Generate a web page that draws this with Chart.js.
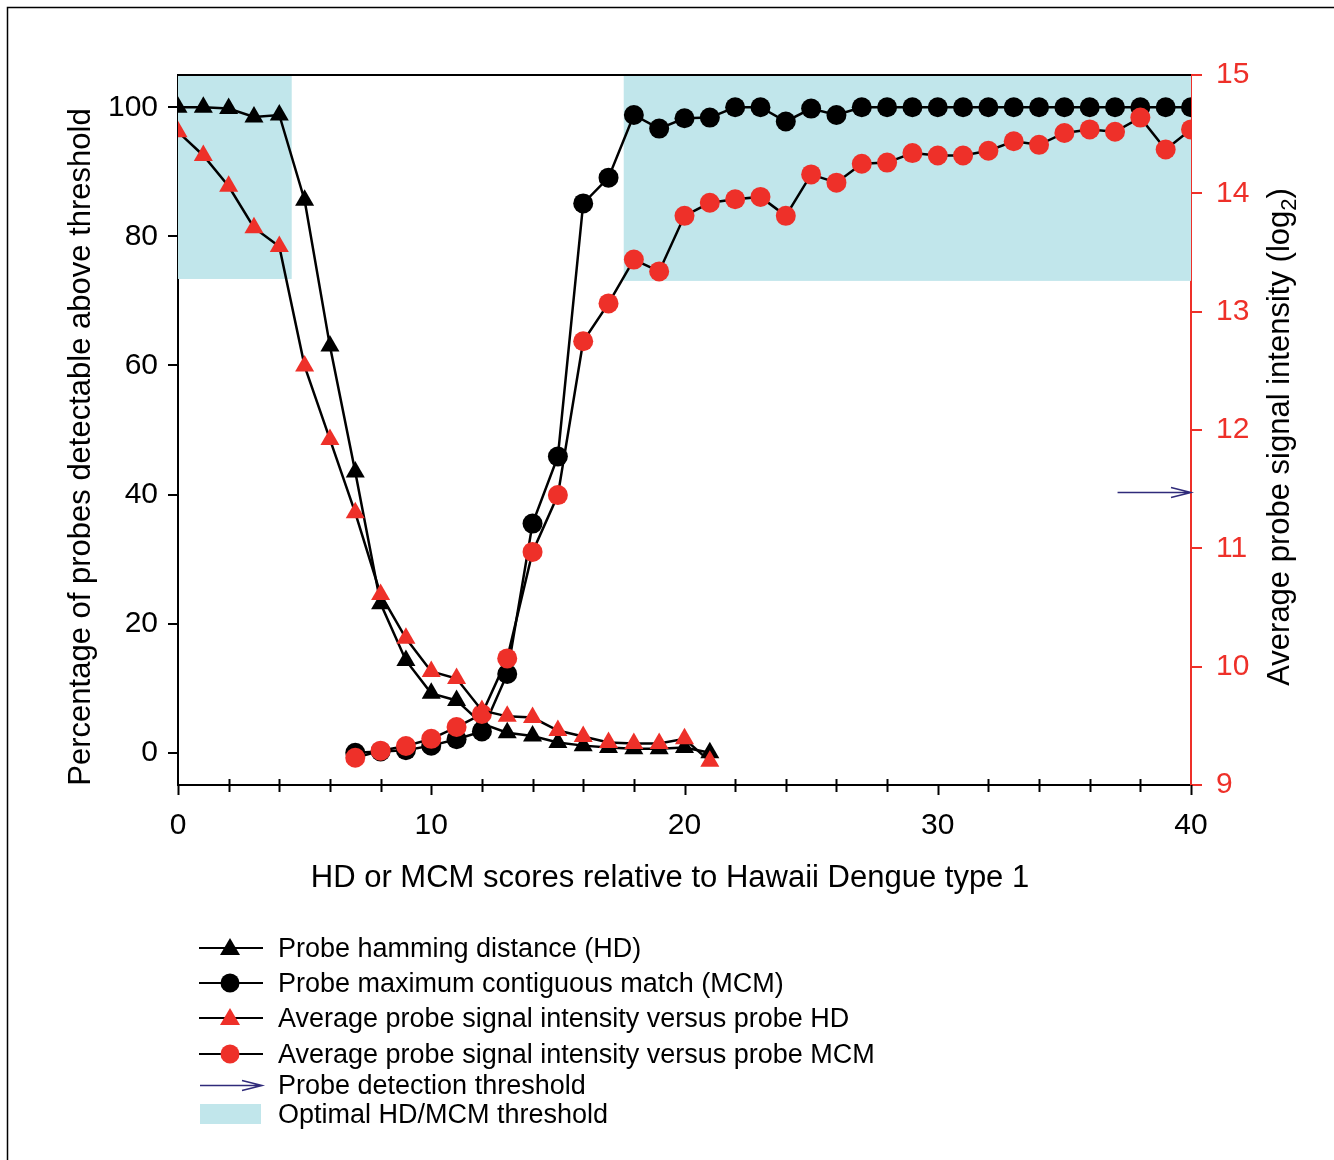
<!DOCTYPE html>
<html>
<head>
<meta charset="utf-8">
<script src="https://cdn.jsdelivr.net/npm/chart.js"></script>
<style>
  html, body { margin: 0; padding: 0; background: #fff; }
  #wrap { width: 1334px; height: 1160px; }
</style>
</head>
<body>
<div id="wrap"><canvas id="chart" width="1334" height="1160"></canvas></div>
<script>
// HD scores 0..21, MCM scores 7..40
var hdScores = [0, 1, 2, 3, 4, 5, 6, 7, 8, 9, 10, 11, 12, 13, 14, 15, 16, 17, 18, 19, 20, 21];
var hdPercent = [100, 100, 99.8, 98.5, 98.8, 85.6, 63, 43.5, 23.1, 14.3, 9.2, 8.1, 4.5, 3.1, 2.6, 1.6, 1.1, 0.8, 0.6, 0.6, 0.8, 0];
var hdSignal = [14.52, 14.32, 14.06, 13.71, 13.55, 12.54, 11.92, 11.3, 10.61, 10.24, 9.96, 9.9, 9.63, 9.58, 9.57, 9.46, 9.41, 9.36, 9.35, 9.35, 9.39, 9.2];

var mcmScores = [7, 8, 9, 10, 11, 12, 13, 14, 15, 16, 17, 18, 19, 20, 21, 22, 23, 24, 25, 26, 27, 28, 29, 30, 31, 32, 33, 34, 35, 36, 37, 38, 39, 40];
var mcmPercent = [0, 0.2, 0.4, 1.1, 2.1, 3.3, 12.2, 35.5, 45.9, 85.1, 89.1, 98.8, 96.7, 98.3, 98.4, 100, 100, 97.8, 99.8, 98.8,
                  100, 100, 100, 100, 100, 100, 100, 100, 100, 100, 100, 100, 100, 100];
var mcmSignal = [9.23, 9.29, 9.33, 9.39, 9.49, 9.6, 10.07, 10.97, 11.45, 12.75, 13.07, 13.44, 13.34, 13.81, 13.92, 13.95, 13.97, 13.81, 14.16, 14.09,
                 14.25, 14.26, 14.34, 14.32, 14.32, 14.36, 14.44, 14.41, 14.51, 14.54, 14.52, 14.64, 14.37, 14.54];

// optimal HD/MCM threshold boxes: [fromScore, toScore, lowerPercent]
var shadeBoxes = [[0, 4.49, 73.4], [17.6, 40, 73.1]];
// probe detection threshold (log2 signal) and arrow start score
var detectThreshold = 11.48;
var arrowFrom = 37.1;

var legendItems = [
  "Probe hamming distance (HD)",
  "Probe maximum contiguous match (MCM)",
  "Average probe signal intensity versus probe HD",
  "Average probe signal intensity versus probe MCM",
  "Probe detection threshold",
  "Optimal HD/MCM threshold"
];

var RED = "#ee3029";
var SHADE = "#c1e6eb";
var NAVY = "#2f2a7a";
var FONT = "'Liberation Sans', Arial, Helvetica, sans-serif";

function pts(xs, ys) {
  return xs.map(function (x, i) { return { x: x, y: ys[i] }; });
}

var extras = {
  id: "extras",
  beforeDraw: function (chart) {
    var c = chart.ctx;
    c.save();
    c.fillStyle = "#fff";
    c.fillRect(0, 0, chart.width, chart.height);
    c.strokeStyle = "#000";
    c.lineWidth = 1.5;
    c.beginPath();
    c.moveTo(7.5, chart.height);
    c.lineTo(7.5, 7.5);
    c.lineTo(chart.width, 7.5);
    c.stroke();
    c.restore();
  },
  beforeDatasetsDraw: function (chart) {
    var c = chart.ctx, x = chart.scales.x, y = chart.scales.y, a = chart.chartArea;
    c.save();
    c.fillStyle = SHADE;
    shadeBoxes.forEach(function (b) {
      var x0 = x.getPixelForValue(b[0]), x1 = x.getPixelForValue(b[1]);
      var y1 = y.getPixelForValue(b[2]);
      c.fillRect(x0, a.top, x1 - x0, y1 - a.top);
    });
    // top frame line
    c.strokeStyle = "#000";
    c.lineWidth = 2;
    c.beginPath();
    c.moveTo(a.left, a.top);
    c.lineTo(a.right, a.top);
    c.stroke();
    // x-axis ticks: minor cross the axis, major point down
    for (var v = 0; v <= 40; v += 2) {
      var px = Math.round(x.getPixelForValue(v)) + 0.5;
      c.beginPath();
      if (v % 10 === 0) {
        c.moveTo(px, a.bottom);
        c.lineTo(px, a.bottom + 10);
      } else {
        c.moveTo(px, a.bottom - 6);
        c.lineTo(px, a.bottom + 7);
      }
      c.stroke();
    }
    c.restore();
  },
  afterDraw: function (chart) {
    var c = chart.ctx, x = chart.scales.x, y2 = chart.scales.y2;
    c.save();
    // threshold arrow
    var ay = Math.round(y2.getPixelForValue(detectThreshold)) + 0.5;
    var ax0 = x.getPixelForValue(arrowFrom), ax1 = x.getPixelForValue(40);
    drawArrow(c, ax0, ax1, ay);

    // axis titles
    c.fillStyle = "#000";
    c.font = "31px " + FONT;
    c.textAlign = "center";
    c.textBaseline = "middle";
    c.fillText("HD or MCM scores relative to Hawaii Dengue type 1", 670, 878);

    c.save();
    c.translate(81, 447);
    c.rotate(-Math.PI / 2);
    c.fillText("Percentage of probes detectable above threshold", 0, 0);
    c.restore();

    c.save();
    c.translate(1280, 437);
    c.rotate(-Math.PI / 2);
    var main = "Average probe signal intensity (log";
    c.font = "31px " + FONT;
    var w1 = c.measureText(main).width;
    c.font = "22px " + FONT;
    var w2 = c.measureText("2").width;
    c.font = "31px " + FONT;
    var w3 = c.measureText(")").width;
    var sx = -(w1 + w2 + w3) / 2;
    c.textAlign = "left";
    c.fillText(main, sx, 0);
    c.font = "22px " + FONT;
    c.fillText("2", sx + w1, 10);
    c.font = "31px " + FONT;
    c.fillText(")", sx + w1 + w2, 0);
    c.restore();

    // legend
    var rows = [948, 983, 1018, 1054, 1085, 1114];
    c.font = "27px " + FONT;
    c.textAlign = "left";
    c.textBaseline = "middle";
    rows.forEach(function (ry, i) {
      if (i < 4) {
        c.strokeStyle = "#000";
        c.lineWidth = 2;
        c.beginPath();
        c.moveTo(199, ry);
        c.lineTo(263, ry);
        c.stroke();
        c.fillStyle = i < 2 ? "#000" : RED;
        c.beginPath();
        if (i % 2 === 0) {
          c.moveTo(230, ry - 10);
          c.lineTo(240, ry + 7);
          c.lineTo(220, ry + 7);
          c.closePath();
        } else {
          c.arc(230, ry, 9.5, 0, Math.PI * 2);
        }
        c.fill();
      } else if (i === 4) {
        drawArrow(c, 200, 262, ry + 0.5);
      } else {
        c.fillStyle = SHADE;
        c.fillRect(200, ry - 10, 61, 20);
      }
      c.fillStyle = "#000";
      c.fillText(legendItems[i], 278, ry + 2);
    });
    c.restore();
  }
};

function drawArrow(c, x0, x1, yy) {
  c.save();
  c.strokeStyle = NAVY;
  c.lineWidth = 1.5;
  c.beginPath();
  c.moveTo(x0, yy);
  c.lineTo(x1, yy);
  c.moveTo(x1 - 20, yy - 5);
  c.lineTo(x1, yy);
  c.lineTo(x1 - 20, yy + 5);
  c.stroke();
  c.restore();
}

var ctx = document.getElementById("chart").getContext("2d");
var chart = new Chart(ctx, {
  type: "line",
  data: {
    datasets: [
      {
        label: "Average probe signal intensity versus probe HD",
        data: pts(hdScores, hdSignal),
        yAxisID: "y2",
        borderColor: "#000",
        borderWidth: 2.5,
        pointStyle: "triangle",
        pointRadius: 11,
        pointBackgroundColor: RED,
        pointBorderColor: RED,
        pointBorderWidth: 0,
        order: 1
      },
      {
        label: "Average probe signal intensity versus probe MCM",
        data: pts(mcmScores, mcmSignal),
        yAxisID: "y2",
        borderColor: "#000",
        borderWidth: 2.5,
        pointStyle: "circle",
        pointRadius: 10,
        pointBackgroundColor: RED,
        pointBorderColor: RED,
        pointBorderWidth: 0,
        order: 2
      },
      {
        label: "Probe hamming distance (HD)",
        data: pts(hdScores, hdPercent),
        yAxisID: "y",
        borderColor: "#000",
        borderWidth: 2.5,
        pointStyle: "triangle",
        pointRadius: 11,
        pointBackgroundColor: "#000",
        pointBorderColor: "#000",
        pointBorderWidth: 0,
        order: 3
      },
      {
        label: "Probe maximum contiguous match (MCM)",
        data: pts(mcmScores, mcmPercent),
        yAxisID: "y",
        borderColor: "#000",
        borderWidth: 2.5,
        pointStyle: "circle",
        pointRadius: 10,
        pointBackgroundColor: "#000",
        pointBorderColor: "#000",
        pointBorderWidth: 0,
        order: 4
      }
    ]
  },
  options: {
    responsive: false,
    animation: false,
    layout: { padding: { top: 75, left: 0, right: 0, bottom: 0 } },
    plugins: {
      legend: { display: false },
      tooltip: { enabled: false }
    },
    scales: {
      x: {
        type: "linear",
        min: 0,
        max: 40,
        grid: { display: false, drawTicks: false },
        border: { display: true, color: "#000", width: 2 },
        ticks: { stepSize: 10, color: "#000", padding: 23, font: { family: FONT, size: 30 } },
        afterFit: function (s) { s.height = 375; }
      },
      y: {
        position: "left",
        min: -5,
        max: 105,
        afterBuildTicks: function (s) {
          s.ticks = [0, 20, 40, 60, 80, 100].map(function (v) { return { value: v }; });
        },
        grid: { drawOnChartArea: false, color: "#000", lineWidth: 2, tickLength: 10 },
        border: { display: true, color: "#000", width: 2 },
        ticks: { color: "#000", padding: 10, font: { family: FONT, size: 30 } },
        afterFit: function (s) { s.width = 178; }
      },
      y2: {
        position: "right",
        min: 9,
        max: 15,
        z: 1,
        grid: { drawOnChartArea: false, color: RED, lineWidth: 2, tickLength: 11 },
        border: { display: true, color: RED, width: 2 },
        ticks: { stepSize: 1, color: RED, padding: 14, font: { family: FONT, size: 30 } },
        afterFit: function (s) { s.width = 143; }
      }
    }
  },
  plugins: [extras]
});
</script>
</body>
</html>
